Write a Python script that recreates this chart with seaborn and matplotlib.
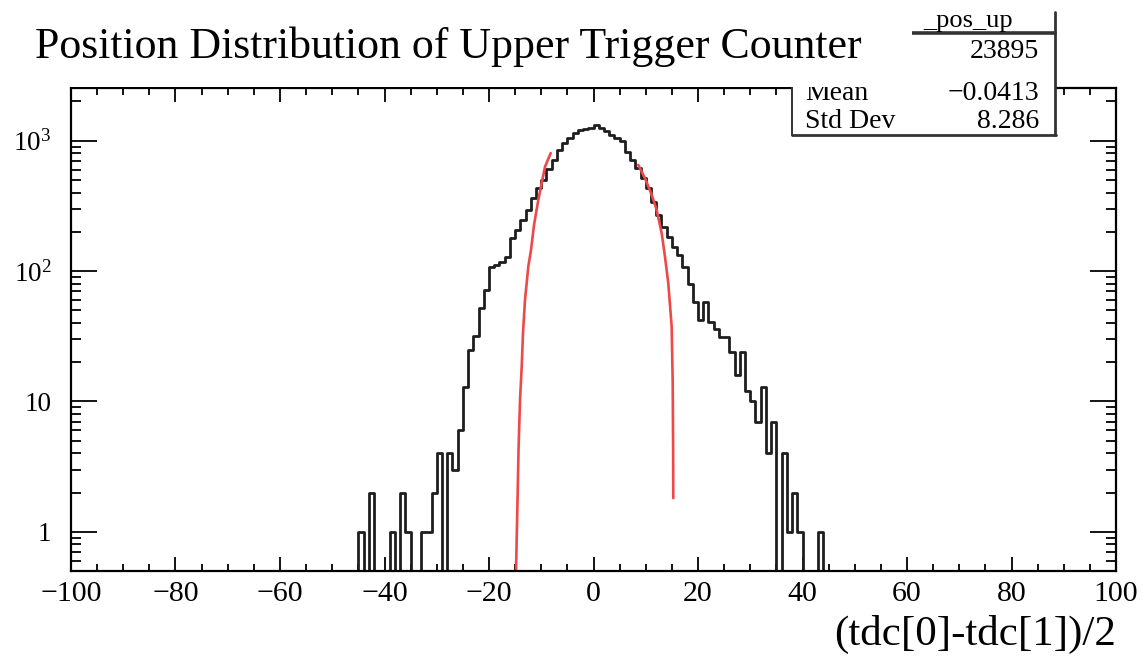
import numpy as np
import pandas as pd
import matplotlib
matplotlib.use("Agg")
import matplotlib.pyplot as plt
import seaborn as sns
from matplotlib.ticker import (MultipleLocator, FixedLocator, FixedFormatter,
                               LogLocator, NullFormatter)
from matplotlib.patches import Rectangle
from matplotlib.lines import Line2D

# ---------------------------------------------------------------
# data (200 bins of width 1 on [-100, 100])
# ---------------------------------------------------------------
bin_lo = np.arange(-45, 44)          # left edges of the non-empty region
counts = [1, 0, 2, 0, 0, 0, 1, 0, 2, 1,            # -45 .. -36
          0, 0, 1, 1, 2, 4, 0, 4, 3, 6,            # -35 .. -26
          13, 25, 32, 52, 72, 108, 112, 118, 127, 179,   # -25 .. -16
          207, 246, 294, 362, 434, 500, 610, 710, 850, 960,  # -15 .. -6
          1050, 1150, 1200, 1230, 1260,            # -5 .. -1
          1320, 1250, 1180, 1110, 1050, 990, 820, 710, 620, 520,  # 0 .. 9
          434, 340, 270, 218, 183, 154, 133, 108, 80, 58,   # 10 .. 19
          42, 58, 41, 36, 31, 31, 24, 16, 24, 12,   # 20 .. 29
          10, 7, 13, 4, 7, 0, 4, 1, 2, 1,           # 30 .. 39
          0, 0, 0, 1]                               # 40 .. 43

# red edge fits (left and right), read point by point
left_fit_x = [-14.83, -14.54, -14.35, -14.06, -13.74, -13.49, -13.11,
              -12.48, -11.96, -11.38, -10.56, -9.28, -8.19]
left_fit_y = [0.5, 1.76, 4.25, 10.3, 18.5, 33.6, 60.0,
              108, 145, 226, 352, 631, 803]
right_fit_x = [8.57, 9.85, 11.14, 12.09, 13.05, 13.68, 14.31,
               14.96, 15.16, 15.24, 15.27]
right_fit_y = [652, 515, 384, 294, 195, 129, 80.7,
               37.5, 13.8, 4.25, 1.81]

title = "Position Distribution of Upper Trigger Counter"
hist_name = "_pos_up"
n_entries = "23895"
mean_txt = "\u22120.0413"
std_txt = "8.286"
x_title = "(tdc[0]-tdc[1])/2"
y_ticks = [1, 10, 100, 1000]
y_labels = ["1", "10", r"$10^{2}$", r"$10^{3}$"]

# ---------------------------------------------------------------
W, H = 1146, 659
sns.set_theme(style="ticks")
plt.rcParams["font.family"] = ["Liberation Serif", "DejaVu Serif"]
plt.rcParams["mathtext.fontset"] = "custom"
plt.rcParams["mathtext.rm"] = "Liberation Serif"
plt.rcParams["mathtext.it"] = "Liberation Serif:italic"
plt.rcParams["mathtext.default"] = "rm"
plt.rcParams["axes.unicode_minus"] = True
plt.rcParams["text.color"] = "black"
plt.rcParams["xtick.color"] = "black"
plt.rcParams["ytick.color"] = "black"
plt.rcParams["xtick.labelcolor"] = "black"
plt.rcParams["ytick.labelcolor"] = "black"

fig = plt.figure(figsize=(W / 100, H / 100), dpi=100)
fig.patch.set_facecolor("white")


def fx(x):
    return x / W


def fy(y):
    return 1 - y / H


ax = fig.add_axes([fx(71), fy(571), fx(1116) - fx(71), fy(88) - fy(571)])
ax.set_facecolor("white")

df = pd.DataFrame({"x": bin_lo + 0.5, "n": counts})
sns.histplot(data=df, x="x", weights="n", binwidth=1, binrange=(-100, 100),
             element="step", fill=False, color="#1e1e1e", linewidth=2.0, ax=ax)
sns.lineplot(x=left_fit_x, y=left_fit_y, estimator=None, sort=False,
             color="#ee4848", linewidth=1.9, ax=ax)
sns.lineplot(x=right_fit_x, y=right_fit_y, estimator=None, sort=False,
             color="#ee4848", linewidth=1.9, ax=ax)

ax.set_yscale("log")
ax.set_xlim(-100, 100)
ax.set_ylim(0.5, 2535)
ax.set_xlabel("")
ax.set_ylabel("")

ax.xaxis.set_major_locator(MultipleLocator(20))
ax.xaxis.set_minor_locator(MultipleLocator(5))
ax.yaxis.set_major_locator(FixedLocator(y_ticks))
ax.yaxis.set_major_formatter(FixedFormatter(y_labels))
ax.yaxis.set_minor_locator(LogLocator(base=10, subs=np.arange(2, 10), numticks=30))
ax.yaxis.set_minor_formatter(NullFormatter())

ax.tick_params(axis="both", which="both", direction="in", top=True, right=True,
               color="black", labelcolor="black", width=1.3)
ax.tick_params(axis="x", which="major", length=10, labelsize=21.5, pad=7)
ax.tick_params(axis="x", which="minor", length=5)
ax.tick_params(axis="y", which="major", length=19, labelsize=19.5, pad=14)
ax.tick_params(axis="y", which="minor", length=7.5)
for s in ax.spines.values():
    s.set_color("black")
    s.set_linewidth(1.6)

# x-axis title, right aligned under the frame
fig.text(fx(1116), fy(645), x_title, ha="right", va="baseline", fontsize=31,
         color="black")

# stats box
box = Rectangle((fx(792), fy(135)), fx(1055) - fx(792), fy(12) - fy(135),
                transform=fig.transFigure, facecolor="white", edgecolor="none",
                zorder=5)
fig.add_artist(box)
for (x0, y0, x1, y1, lw) in [(792, 87, 792, 135, 1.4),
                             (792, 135, 1056, 135, 2.0),
                             (1055, 12, 1055, 135, 2.0),
                             (792, 33, 1055, 33, 2.6)]:
    fig.add_artist(Line2D([fx(x0), fx(x1)], [fy(y0), fy(y1)],
                          transform=fig.transFigure, color="#333333",
                          linewidth=lw, zorder=6))

stat_kw = dict(va="baseline", fontsize=20, zorder=7, color="black")
fig.text(fx(968), fy(27), hist_name, ha="center", va="baseline", fontsize=19,
         zorder=7, color="black")
fig.text(fx(1039), fy(58), n_entries, ha="right", **stat_kw)
fig.text(fx(805), fy(100), "Mean", ha="left", **stat_kw)
fig.text(fx(1039), fy(100), mean_txt, ha="right", **stat_kw)
fig.text(fx(805), fy(128), "Std Dev", ha="left", **stat_kw)
fig.text(fx(1039), fy(128), std_txt, ha="right", **stat_kw)

# title pave sits on top of the stats box corner
pave = Rectangle((0, fy(86.5)), fx(912), 1 - fy(86.5), transform=fig.transFigure,
                 facecolor="white", edgecolor="none", zorder=8)
fig.add_artist(pave)
fig.text(fx(35), fy(58), title, ha="left", va="baseline", fontsize=31.6,
         zorder=9, color="black")

fig.savefig("out.png", dpi=100, facecolor="white")
